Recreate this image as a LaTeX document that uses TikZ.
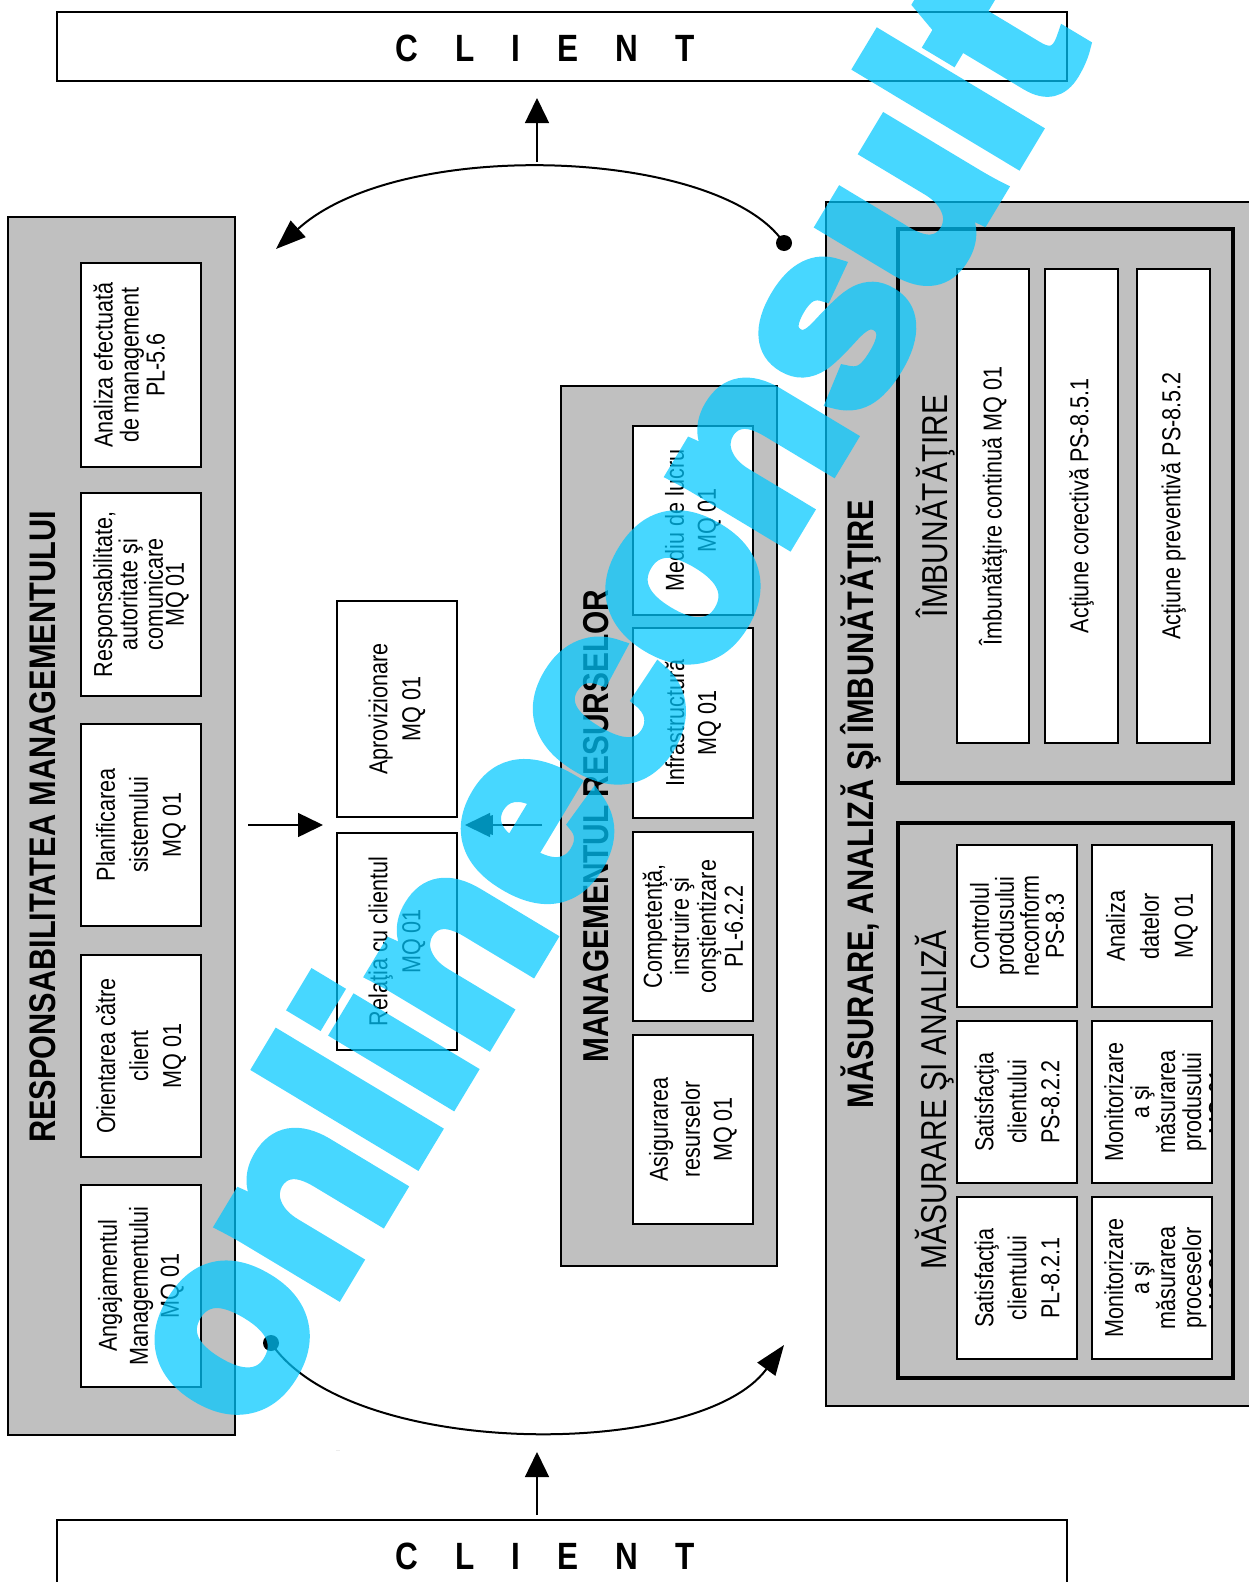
\documentclass[tikz,border=0pt]{standalone}
\usepackage{fontspec}
\setmainfont{Liberation Sans}[FakeStretch=0.83]
\newfontfamily\wmfont{Liberation Sans}[FakeBold=6]
\usetikzlibrary{arrows.meta}
\definecolor{panelgray}{RGB}{192,192,192}
\definecolor{wmcyan}{RGB}{0,200,255}
\newcommand{\clienttext}{C\hspace{37pt}L\hspace{37pt}I\hspace{37pt}E\hspace{37pt}N\hspace{37pt}T}
\begin{document}
\begin{tikzpicture}[x=1pt,y=-1pt,
  panel/.style={draw=black, fill=panelgray, line width=2pt, inner sep=0pt, rectangle},
  thickbox/.style={draw=black, line width=4pt, inner sep=0pt, rectangle},
  wbox/.style={draw=black, fill=white, line width=1.8pt, inner sep=0pt, rotate=90, align=center, rectangle},
  bsz/.style 2 args={minimum width=#1pt, minimum height=#2pt},
  lsp/.style={font=\fontsize{26}{#1}\selectfont},
  title/.style={font=\fontsize{37}{37}\selectfont\bfseries, rotate=90, anchor=base, inner sep=0pt},
  subtitle/.style={font=\fontsize{36}{36}\selectfont, rotate=90, anchor=base, inner sep=0pt},
  clientbox/.style={draw=black, line width=2.5pt, fill=white, inner sep=0pt, rectangle},
  clientlbl/.style={font=\fontsize{38}{38}\selectfont\bfseries, anchor=base, inner sep=0pt},
  arr/.style={line width=1.5pt, -{Triangle[length=25pt,width=24pt]}},
  arcline/.style={line width=2pt, -{Triangle[length=30pt,width=22pt]}},
  dotnode/.style={circle, fill=black, inner sep=0pt, minimum size=16pt},
  watermark/.style={font=\wmfont\bfseries\fontsize{250}{250}\selectfont, text=wmcyan, rotate=59, anchor=base, inner sep=0pt}
]
\useasboundingbox (0,0) rectangle (1248,1582);
\fill[white] (0,0) rectangle (1248,1582);

% CLIENT boxes
\node[clientbox, minimum width=1010pt, minimum height=69pt] (clientTop) at (562,46.5) {};
\node[clientlbl] (clientTopT) at (545,61) {\clienttext};
\node[clientbox, minimum width=1010pt, minimum height=90pt] (clientBot) at (562,1565) {};
\node[clientlbl] (clientBotT) at (545,1569) {\clienttext};

% Responsabilitatea managementului
\node[panel, minimum width=227pt, minimum height=1218pt] (resp) at (121.5,826) {};
\node[title] (respT) at (55,827) {RESPONSABILITATEA MANAGEMENTULUI};
\node[wbox, bsz={204}{120}, lsp=26] (a1) at (141,365) {Analiza efectuată\\de management\\PL-5.6\\[-2pt]\mbox{}};
\node[wbox, bsz={203}{120}, lsp=21] (a2) at (141,594.5) {Responsabilitate,\\autoritate şi\\comunicare\\MQ 01};
\node[wbox, bsz={202}{120}, lsp=33] (a3) at (141,825) {Planificarea\\sistemului\\MQ 01};
\node[wbox, bsz={202}{120}, lsp=33] (a4) at (141,1056) {Orientarea către\\client\\MQ 01};
\node[wbox, bsz={202}{120}, lsp=31] (a5) at (141,1286) {Angajamentul\\Managementului\\MQ 01};

% middle boxes
\node[wbox, bsz={216}{120}, lsp=33] (b1) at (397,709) {Aprovizionare\\MQ 01};
\node[wbox, bsz={217}{120}, lsp=33] (b2) at (397,941.5) {Relaţia cu clientul\\MQ 01};

% Managementul resurselor
\node[panel, minimum width=216pt, minimum height=880pt] (res) at (669,826) {};
\node[title, font=\fontsize{36}{36}\selectfont\bfseries] (resT) at (608,826) {MANAGEMENTUL RESURSELOR};
\node[wbox, bsz={189}{120}, lsp=32] (c1) at (693,520.5) {Mediu de lucru\\MQ 01};
\node[wbox, bsz={190}{120}, lsp=32] (c2) at (693,723) {Infrastructură\\MQ 01};
\node[wbox, bsz={189}{120}, lsp=27] (c3) at (693,926.5) {Competenţă,\\instruire şi\\conştientizare\\PL-6.2.2};
\node[wbox, bsz={189}{120}, lsp=32] (c4) at (693,1129.5) {Asigurarea\\resurselor\\MQ 01};

% Masurare, analiza si imbunatatire
\node[panel, minimum width=428pt, minimum height=1204pt] (mai) at (1040,804) {};
\node[title] (maiT) at (873,804) {MĂSURARE, ANALIZĂ ŞI ÎMBUNĂTĂŢIRE};
\node[thickbox, minimum width=335pt, minimum height=554pt] (imb) at (1065.5,505.5) {};
\node[subtitle] (imbT) at (947,506) {ÎMBUNĂTĂŢIRE};
\node[wbox, bsz={474}{72}, lsp=26] (d1) at (993,506) {Îmbunătăţire continuă MQ 01};
\node[wbox, bsz={474}{73}, lsp=26] (d2) at (1081.5,506) {Acţiune corectivă PS-8.5.1};
\node[wbox, bsz={474}{73}, lsp=26] (d3) at (1173.5,506) {Acţiune preventivă PS-8.5.2};

\node[thickbox, minimum width=335pt, minimum height=555pt] (mas) at (1065.5,1100.5) {};
\node[subtitle] (masT) at (946,1100) {MĂSURARE ŞI ANALIZĂ};
\node[wbox, bsz={162}{120}, lsp=25] (g11) at (1017,926) {Controlul\\produsului\\neconform\\PS-8.3};
\node[wbox, bsz={162}{120}, lsp=34] (g12) at (1152,926) {Analiza\\datelor\\MQ 01};
\node[wbox, bsz={162}{120}, lsp=33] (g21) at (1017,1102) {Satisfacţia\\clientului\\PS-8.2.2};
\node[wbox, bsz={162}{120}, lsp=33] (g31) at (1017,1278) {Satisfacţia\\clientului\\PL-8.2.1};
\node[wbox, bsz={162}{120}] (g22) at (1152,1102) {};
\node[wbox, bsz={162}{120}] (g32) at (1152,1278) {};
\begin{scope}
  \clip (1093,1022) rectangle (1211,1182);
  \node[rotate=90, align=center, inner sep=0pt, lsp=26, anchor=north] (g22t) at (1104,1102) {Monitorizare\\a şi\\măsurarea\\produsului\\MQ 01};
\end{scope}
\begin{scope}
  \clip (1093,1198) rectangle (1211,1358);
  \node[rotate=90, align=center, inner sep=0pt, lsp=26, anchor=north] (g32t) at (1104,1278) {Monitorizare\\a şi\\măsurarea\\proceselor\\MQ 01};
\end{scope}

% connectors
\coordinate (upTopS) at (537,162);
\coordinate (upTopE) at (537,98);
\coordinate (upBotS) at (537,1515);
\coordinate (upBotE) at (537,1452);
\draw[arr] (upTopS) -- (upTopE);
\draw[arr] (upBotS) -- (upBotE);

\coordinate (lmS) at (248,825);
\coordinate (lmE) at (323,825);
\coordinate (rmS) at (542,825);
\coordinate (rmE) at (465,825);
\draw[arr] (lmS) -- (lmE);
\draw[arr] (rmS) -- (rmE);
\fill (493,815) .. controls (484,815) and (484,835) .. (493,835) -- cycle;

\node[dotnode] (dotTop) at (784,243) {};
\node[dotnode] (dotBot) at (271,1343) {};
\coordinate (arcTopE) at (276,249);
\coordinate (arcBotE) at (784,1345);
\draw[arcline] (dotTop.center) .. controls (720,148) and (400,136) .. (arcTopE);
\draw[arcline] (dotBot.center) .. controls (350,1460) and (700,1460) .. (arcBotE);

\node[font=\fontsize{4}{4}\selectfont, text=gray, inner sep=0pt] (stray) at (338,1451) {....};

% watermark
\begin{scope}[transparency group, opacity=0.72]
  \node[watermark] (wm) at (668,741) {onlineconsult};
\end{scope}
\end{tikzpicture}
\end{document}
